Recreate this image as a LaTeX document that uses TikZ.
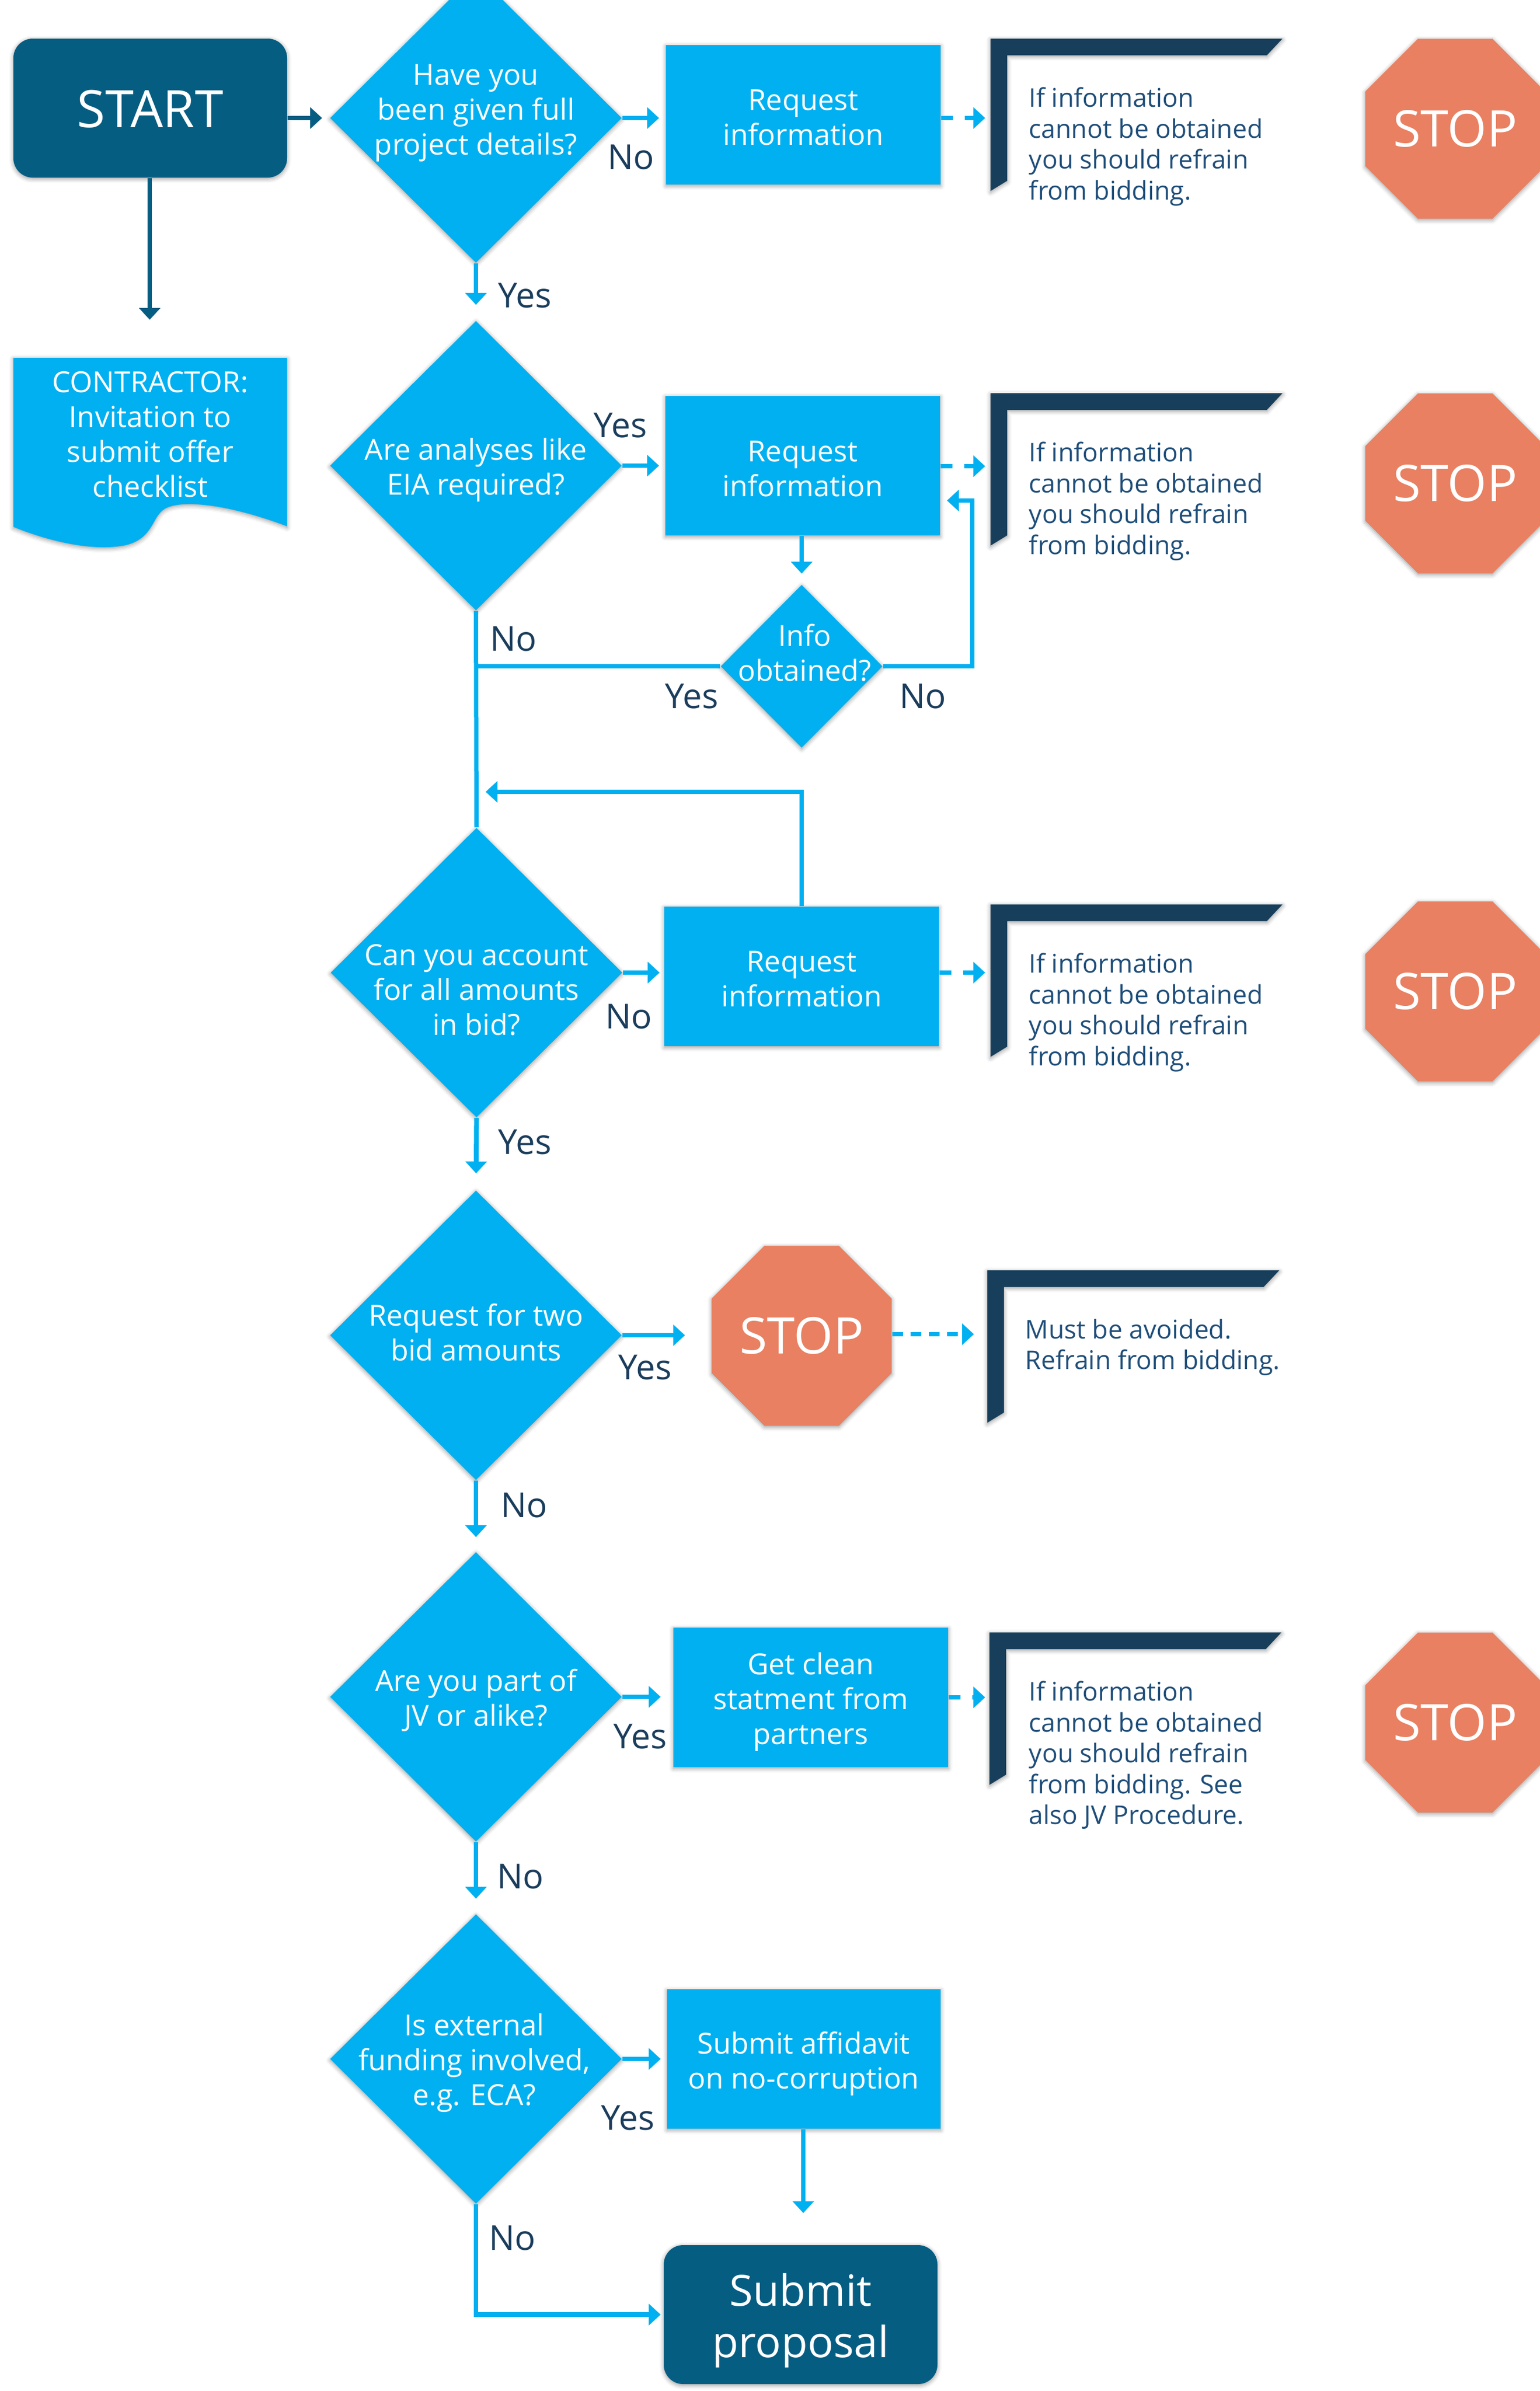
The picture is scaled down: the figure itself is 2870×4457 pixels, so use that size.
\documentclass[tikz,border=0pt]{standalone}
\usepackage{fontspec}
\setmainfont{Open Sans}
\usetikzlibrary{arrows.meta,shapes.geometric,shadows.blur,calc}
\definecolor{lblue}{HTML}{00B0F0}
\definecolor{dblue}{HTML}{065D82}
\definecolor{navy}{HTML}{173F5B}
\definecolor{lbl}{HTML}{1B3D5C}
\definecolor{notec}{HTML}{1F4E79}
\definecolor{stopc}{HTML}{E98062}
\tikzset{
  shd/.style={blur shadow={shadow xshift=0pt,shadow yshift=-0.6pt,shadow blur radius=2pt,shadow opacity=40}},
  dia/.style={diamond,aspect=1,fill=lblue,inner sep=0pt,minimum width=136pt,minimum height=135pt,shd},
  box/.style={rectangle,fill=lblue,inner sep=0pt,minimum width=128pt,minimum height=65pt,shd},
  txt/.style={text=white,align=center,inner sep=0pt,font=\fontsize{13.5}{16.25}\selectfont},
  lab/.style={text=lbl,inner sep=0pt,font=\fontsize{16}{19}\selectfont},
  notetxt/.style={text=notec,align=left,inner sep=0pt,anchor=north west,font=\fontsize{12}{14.375}\selectfont},
  stopsign/.style={regular polygon,regular polygon sides=8,minimum size=90.75pt,inner sep=0pt,fill=stopc,text=white,font=\fontsize{23.5}{27}\selectfont,shd},
  termbox/.style={rectangle,rounded corners=9pt,fill=dblue,minimum width=127.5pt,minimum height=64.75pt,inner sep=0pt,shd},
  termtxt/.style={text=white,align=center,inner sep=0pt},
  arr/.style={draw=lblue,line width=2.2pt,-{Triangle[length=5.5pt,width=9.75pt]}},
  darr/.style={draw=dblue,line width=2.2pt,-{Triangle[length=5.5pt,width=9.75pt]}},
  dsh/.style={arr,dash pattern=on 5.5pt off 5.5pt},
  dotl/.style={arr,dash pattern=on 5pt off 3.5pt},
  plain/.style={draw=lblue,line width=2pt},
  notebr/.pic={\fill[navy,shd] (0,0) -- (544,0) -- (515,31) -- (31,31) -- (31,265) -- (0,284) -- cycle;}
}
\begin{document}
\begin{tikzpicture}[x=0.25pt,y=-0.25pt]
\useasboundingbox (0,0) rectangle (2870,4457);

% ---------- left column ----------
\node[termbox] (start) at (280,201.5) {};
\node[termtxt,font=\fontsize{24}{28}\selectfont] (startt) at (280,203) {START};
\fill[lblue,shd] (25,667) -- (535,667) -- (535,981) .. controls (440,945) and (350,930) .. (312,946) .. controls (282,958) and (290,1002) .. (235,1016) .. controls (170,1030) and (80,1005) .. (25,982) -- cycle;
\node[txt] (doc) at (280,810) {CONTRACTOR:\\Invitation to\\submit offer\\checklist};
\coordinate (docn) at (279,667);

% ---------- row 1 ----------
\node[dia] (d1) at (887,220) {};
\node[txt] (d1t) at (887,211) {Have you\\been given full\\project details?};
\node[box] (r1) at (1497,214) {};
\node[txt] (r1t) at (1497,219) {Request\\information};
\pic at (1846,72) {notebr};
\node[notetxt] (t1) at (1917,162) {If information\\cannot be obtained\\you should refrain\\from bidding.};
\node[stopsign] (s1) at (2712,240) {STOP};
\coordinate (n1) at (1836,220);

% ---------- row 2 ----------
\node[dia] (d2) at (887,868) {};
\node[txt] (d2t) at (887,876) {Are analyses like\\EIA required?};
\node[box] (r2) at (1496,868) {};
\node[txt] (r2t) at (1496,874) {Request\\information};
\pic at (1846,733) {notebr};
\node[notetxt] (t2) at (1917,823) {If information\\cannot be obtained\\you should refrain\\from bidding.};
\node[stopsign] (s2) at (2712,901) {STOP};
\coordinate (n2) at (1836,869);
\node[dia,minimum width=75.5pt,minimum height=76pt] (info) at (1494,1242) {};
\node[txt] (infot) at (1500,1217) {Info\\obtained?};
\coordinate (rl) at (1812,933);

% ---------- row 3 ----------
\node[dia] (d3) at (888,1813) {};
\node[txt] (d3t) at (888,1845) {Can you account\\for all amounts\\in bid?};
\node[box] (r3) at (1494,1820) {};
\node[txt] (r3t) at (1494,1825) {Request\\information};
\pic at (1846,1686) {notebr};
\node[notetxt] (t3) at (1917,1776) {If information\\cannot be obtained\\you should refrain\\from bidding.};
\node[stopsign] (s3) at (2712,1848) {STOP};
\coordinate (n3) at (1836,1813);
\coordinate (lp) at (887,1476);

% ---------- row 4 ----------
\node[dia] (d4) at (887,2489) {};
\node[txt] (d4t) at (887,2484) {Request for two\\bid amounts};
\node[stopsign] (s4) at (1494,2490) {STOP};
\pic at (1840,2368) {notebr};
\node[notetxt] (t4) at (1910,2458) {Must be avoided.\\Refrain from bidding.};
\coordinate (n4) at (1815,2487);

% ---------- row 5 ----------
\node[dia] (d5) at (887,3163) {};
\node[txt] (d5t) at (887,3169) {Are you part of\\JV or alike?};
\node[box] (r5) at (1511,3164) {};
\node[txt] (r5t) at (1511,3172) {Get clean\\statment from\\partners};
\pic at (1844,3043) {notebr};
\node[notetxt] (t5) at (1917,3133) {If information\\cannot be obtained\\you should refrain\\from bidding. See\\also JV Procedure.};
\node[stopsign] (s5) at (2712,3211) {STOP};
\coordinate (n5) at (1836,3164);

% ---------- row 6 ----------
\node[dia] (d6) at (887,3838) {};
\node[txt] (d6t) at (884,3845) {Is external\\funding involved,\\e.g. ECA?};
\node[box,minimum width=127.5pt] (aff) at (1498,3838) {};
\node[txt] (afft) at (1498,3847) {Submit affidavit\\on no-corruption};
\node[termbox] (sub) at (1492,4314.5) {};
\node[termtxt,font=\fontsize{20}{24}\selectfont] (subt) at (1492,4326) {Submit\\proposal};

% ---------- connectors ----------
\draw[darr,shorten >=3.5pt] (start.east |- d1.west) -- (d1.west);
\draw[darr,shorten >=17.75pt] (start.south -| docn) -- (docn);

\draw[arr,shorten >=3pt] (d1.east) -- (r1.west |- d1.east);
\draw[dsh] (r1.east |- n1) -- (n1);
\draw[arr,shorten >=7.25pt] (d1.south) -- (d2.north);

\draw[arr,shorten >=2.75pt] (d2.east) -- (r2.west |- d2.east);
\draw[dsh] (r2.east |- n2) -- (n2);
\draw[arr,shorten >=5pt] (r2.south -| info.north) -- (info.north);
\draw[plain] (d2.south) -- (d3.north);
\draw[plain] (info.west) -- (info.west -| d2.south);
\draw[arr,shorten >=3pt] (info.east) -| (rl) -- (rl -| r2.east);
\draw[arr,shorten >=4.5pt] (r3.north -| info.south) |- (lp);

\draw[arr,shorten >=2pt] (d3.east) -- (r3.west |- d3.east);
\draw[dsh] (r3.east |- n3) -- (n3);
\draw[arr,shorten >=7.75pt] (d3.south) -- (d4.north);

\draw[arr,shorten >=12.25pt] (d4.east) -- (s4.west |- d4.east);
\draw[dotl] (s4.east |- n4) -- (n4);
\draw[arr,shorten >=6.75pt] (d4.south) -- (d5.north);

\draw[arr,shorten >=5.75pt] (d5.east) -- (r5.west |- d5.east);
\draw[dsh] (r5.east |- n5) -- (n5);
\draw[arr,shorten >=7pt] (d5.south) -- (d6.north);

\draw[arr,shorten >=2.75pt] (d6.east) -- (aff.west |- d6.east);
\draw[arr,shorten >=14.75pt] (aff.south -| 1497,0) -- (sub.north -| 1497,0);
\draw[arr,shorten >=1.25pt] (d6.south) |- (sub.west);

% ---------- labels ----------
\node[lab] (l1) at (1176,293) {No};
\node[lab] (l2) at (978,551) {Yes};
\node[lab] (l3) at (1156,793) {Yes};
\node[lab] (l4) at (957,1191) {No};
\node[lab] (l5) at (1289,1298) {Yes};
\node[lab] (l6) at (1720,1298) {No};
\node[lab] (l7) at (1172,1895) {No};
\node[lab] (l8) at (978,2129) {Yes};
\node[lab] (l9) at (1202,2549) {Yes};
\node[lab] (l10) at (977,2806) {No};
\node[lab] (l11) at (1193,3237) {Yes};
\node[lab] (l12) at (970,3498) {No};
\node[lab] (l13) at (1170,3948) {Yes};
\node[lab] (l14) at (955,4172) {No};
\end{tikzpicture}
\end{document}
